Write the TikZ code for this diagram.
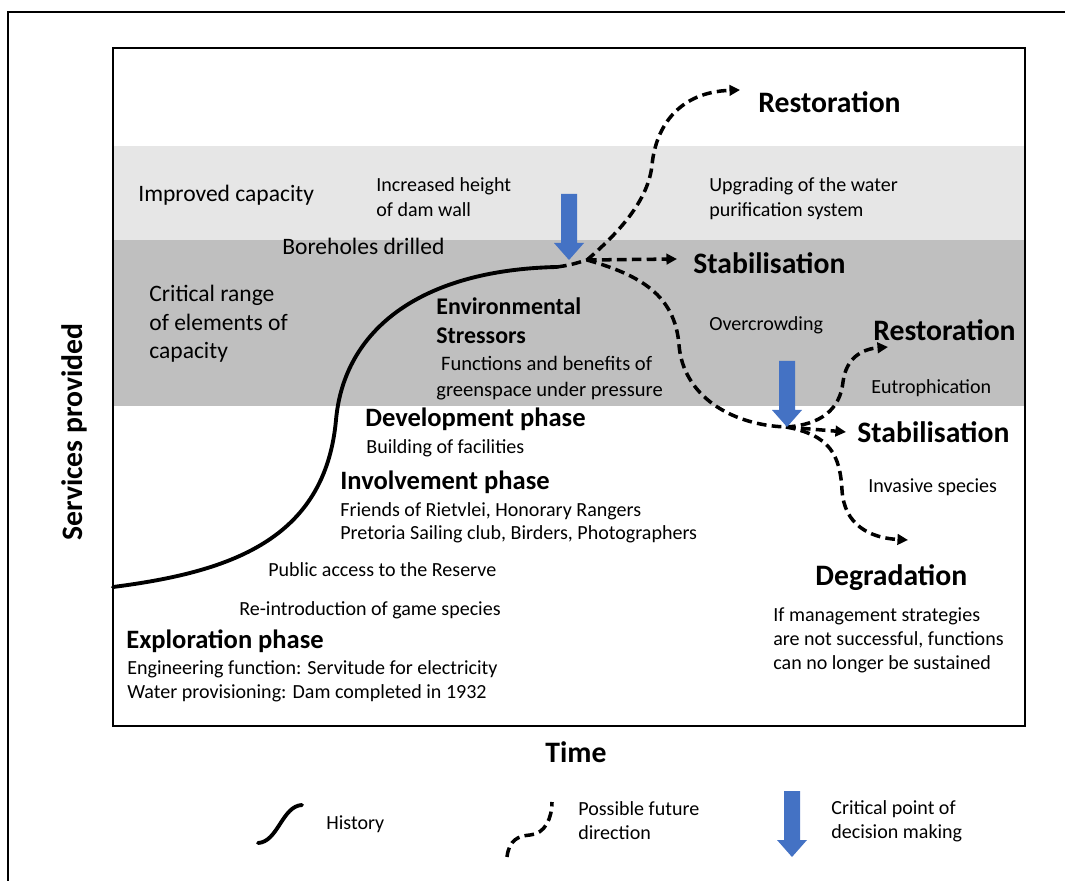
\documentclass[tikz,border=0pt]{standalone}
\usepackage{fontspec}
\setmainfont{Carlito}
\usetikzlibrary{arrows.meta}
\definecolor{bandlight}{RGB}{230,230,230}
\definecolor{banddark}{RGB}{191,191,191}
\definecolor{decisionblue}{RGB}{68,114,196}
\def\decisionarrow(#1,#2){\fill[decisionblue] (#1-8,#2-66) -- (#1+8,#2-66) -- (#1+8,#2-17) -- (#1+15,#2-17) -- (#1,#2) -- (#1-15,#2-17) -- (#1-8,#2-17) -- cycle;}
\tikzset{
	history/.style={line width=2.2pt, line cap=round},
	future/.style={line width=2pt, dash pattern=on 5.5pt off 3pt},
	futurearrow/.style={future, -{Triangle[length=6pt, width=6pt]}},
	outcome/.style={anchor=west, inner sep=0pt, font=\fontsize{16.9}{20}\selectfont\bfseries},
	phase/.style={anchor=west, inner sep=0pt, font=\fontsize{15.1}{18}\selectfont\bfseries},
	bandtext/.style={anchor=west, inner sep=0pt, align=left, font=\fontsize{13.4}{16.3}\selectfont},
	note/.style={anchor=west, inner sep=0pt, align=left, font=\fontsize{11.4}{13.7}\selectfont},
}

\begin{document}
\begin{tikzpicture}[x=0.02cm, y=-0.02cm]
			%%%%% START %%%%%
			\useasboundingbox (0,0) rectangle (1065,881);
			
			\fill[bandlight] (113,146) rectangle (1025,240);
			\fill[banddark] (113,240) rectangle (1025,406);
			\draw[line width=1.6pt] (113,48) rectangle (1025,726);
			\draw[line width=1.4pt] (8,881) -- (8,12) -- (1065,12);
			
			\coordinate (start) at (113,587);
			\coordinate (bend) at (336,420);
			\coordinate (now) at (557,267);
			\coordinate (fork1) at (587,260);
			\coordinate (fork2) at (786,427);
			\coordinate (uptop) at (652,165);
			\coordinate (downmid) at (679,345);
			\coordinate (upright) at (843,382);
			\coordinate (downright) at (842,490);
			\coordinate (tipresttop) at (740,90);
			\coordinate (tipstabtop) at (677,259);
			\coordinate (tiprestlow) at (888,347);
			\coordinate (tipstablow) at (846,432);
			\coordinate (tipdegr) at (908,540);
			
			% history of the reserve
			\draw[history] (start) .. controls (230,572) and (325,540) .. (bend)
				.. controls (344,330) and (420,270) .. (now);
			\draw[future] (now) .. controls (570,265) .. (fork1);
			
			% first decision point
			\draw[futurearrow] (fork1) .. controls (610,240) and (648,205) .. (uptop)
				.. controls (656,125) and (680,92) .. (tipresttop);
			\draw[futurearrow] (fork1) -- (tipstabtop);
			\draw[future] (fork1) .. controls (640,275) and (675,295) .. (downmid)
				.. controls (683,395) and (730,425) .. (fork2);
			
			% second decision point
			\draw[futurearrow] (fork2) .. controls (820,425) and (840,410) .. (upright)
				.. controls (846,358) and (862,349) .. (tiprestlow);
			\draw[futurearrow] (fork2) -- (tipstablow);
			\draw[futurearrow] (fork2) .. controls (830,435) and (840,455) .. (downright)
				.. controls (844,525) and (870,538) .. (tipdegr);
			
			\decisionarrow(569,260)
			\decisionarrow(787,427)
			
			% outcomes
			\node[outcome] (resttop) at (758,102) {Restoration};
			\node[outcome] (stabtop) at (693,263) {Stabilisation};
			\node[outcome] (restlow) at (873,330) {Restoration};
			\node[outcome] (stablow) at (857,432) {Stabilisation};
			\node[outcome] (degr) at (815,578) {Degradation};
			\node[note] (degrnote) at (773,640) {If management strategies\\are not successful, functions\\can no longer be sustained};
			
			% capacity bands
			\node[bandtext] (improved) at (138,195) {Improved capacity};
			\node[bandtext] (critical) at (149,324) {Critical range\\of elements of\\capacity};
			\node[bandtext] (bores) at (282,246) {Boreholes drilled};
			\node[note, font=\fontsize{11.4}{14.2}\selectfont] (damwall) at (376,197) {Increased height\\of dam wall};
			\node[note, font=\fontsize{11.4}{14.2}\selectfont] (upgrade) at (709,199) {Upgrading of the water\\purification system};
			\node[note] (crowding) at (709,325) {Overcrowding};
			\node[note] (eutro) at (871,388) {Eutrophication};
			\node[note] (invasive) at (868,487) {Invasive species};
			
			\node[anchor=west, inner sep=0pt, align=left, font=\fontsize{13.6}{16.5}\selectfont\bfseries] (stress) at (436,321) {Environmental\\Stressors};
			\node[note, font=\fontsize{11.7}{14.8}\selectfont] (pressure) at (436,378) {\hspace{0.23em}Functions and benefits of\\greenspace under pressure};
			
			% phases
			\node[phase] (devel) at (365,419) {Development phase};
			\node[note] (facilities) at (366,448) {Building of facilities};
			\node[phase] (involve) at (340,482) {Involvement phase};
			\node[note, font=\fontsize{11.4}{13.1}\selectfont] (groups) at (340,523) {Friends of Rietvlei, Honorary Rangers\\Pretoria Sailing club, Birders, Photographers};
			\node[note] (public) at (268,570) {Public access to the Reserve};
			\node[note] (game) at (239,610) {Re-introduction of game species};
			\node[phase] (explore) at (126,641) {Exploration phase};
			\node[note] (dam) at (127,681) {Engineering function: Servitude for electricity\\Water provisioning: Dam completed in 1932};
			
			% axes
			\node[font=\fontsize{16.9}{20}\selectfont\bfseries, inner sep=0pt] (time) at (576,752) {Time};
			\node[font=\fontsize{16.9}{20}\selectfont\bfseries, inner sep=0pt, rotate=90] (services) at (74,432) {Services provided};
			
			% legend
			\draw[history] (258,843) .. controls (278,842) and (282,806) .. (302,805);
			\node[note] (keyhistory) at (326,824) {History};
			\draw[future] (507,857) .. controls (509,840) and (518,836) .. (530,835)
				.. controls (545,834) and (552,818) .. (552,802);
			\node[note] (keyfuture) at (578,821) {Possible future\\direction};
			\decisionarrow(792,857)
			\node[note] (keydecision) at (831,821) {Critical point of\\decision making};
			
			%%%%% END %%%%%
\end{tikzpicture}
\end{document}
